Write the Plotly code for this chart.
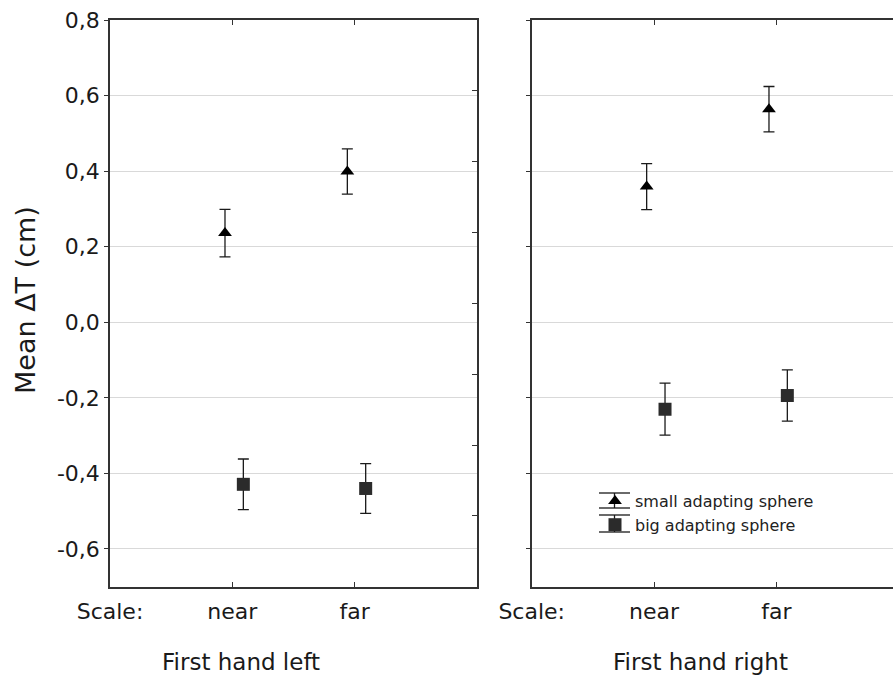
import plotly.graph_objects as go

# ---- data ----
categories = ["near", "far"]
cat_pos = [0, 1]
x_ticklabels = ["Scale:", "near", "far"]
x_tickvals = [-1, 0, 1]

small_left = [0.236, 0.399]
small_left_err = [0.063, 0.060]
big_left = [-0.429, -0.440]
big_left_err = [0.067, 0.066]

small_right = [0.359, 0.564]
small_right_err = [0.061, 0.060]
big_right = [-0.230, -0.194]
big_right_err = [0.069, 0.068]

y_tickvals = [-0.6, -0.4, -0.2, 0.0, 0.2, 0.4, 0.6, 0.8]
y_ticklabels = ["-0,6", "-0,4", "-0,2", "0,0", "0,2", "0,4", "0,6", "0,8"]

panel_titles = ["First hand left", "First hand right"]
series_names = ["small adapting sphere", "big adapting sphere"]

# ---- styling ----
FONT = "DejaVu Sans, Arial, sans-serif"
INK = "#1a1a1a"
LINE = "#333333"
GRID = "#d9d9d9"
off_small = -0.06
off_big = 0.09

W, H = 893, 676
top_px, bot_px = 20, 586.7
ydom = [1 - bot_px / H, 1 - top_px / H]
x1dom = [110 / W, 477 / W]
x2dom = [531.7 / W, 1.0]

fig = go.Figure()

def add_series(xref, yref, vals, errs, offset, symbol, color, size, name, showlegend):
    fig.add_trace(go.Scatter(
        x=[p + offset for p in cat_pos], y=vals,
        mode="markers", name=name, showlegend=showlegend,
        xaxis=xref, yaxis=yref,
        marker=dict(symbol=symbol, color=color, size=size, line=dict(width=0)),
        error_y=dict(type="data", array=errs, visible=True, color=INK, thickness=1.3, width=5.5),
    ))

add_series("x", "y", small_left, small_left_err, off_small, "triangle-up", "#000000", 12, series_names[0], True)
add_series("x", "y", big_left, big_left_err, off_big, "square", "#2b2b2b", 13, series_names[1], True)
add_series("x2", "y2", small_right, small_right_err, off_small, "triangle-up", "#000000", 12, series_names[0], False)
add_series("x2", "y2", big_right, big_right_err, off_big, "square", "#2b2b2b", 13, series_names[1], False)

# invisible trace to carry the right-hand inner tick axis of left panel
fig.add_trace(go.Scatter(x=[None], y=[None], xaxis="x", yaxis="y3", showlegend=False, hoverinfo="skip"))

xcommon = dict(
    tickvals=x_tickvals, ticktext=x_ticklabels, automargin=False,
    ticks="inside", ticklen=5, tickcolor=LINE, tickwidth=1.2,
    showline=True, linecolor=LINE, linewidth=1.5, mirror="ticks",
    showgrid=False, zeroline=False, ticklabelstandoff=4,
    tickfont=dict(family=FONT, size=22, color=INK),
)
ycommon = dict(
    range=[-0.7, 0.8], tickvals=y_tickvals, ticktext=y_ticklabels, automargin=False,
    ticks="outside", ticklen=4, tickcolor=LINE, tickwidth=1.2,
    showline=True, linecolor=LINE, linewidth=1.5,
    showgrid=True, gridcolor=GRID, gridwidth=1.2, zeroline=False,
    tickfont=dict(family=FONT, size=22, color=INK),
)

LEG_X, LEG_TOP = 595, 484

fig.update_layout(
    width=W, height=H,
    margin=dict(l=0, r=0, t=0, b=0, autoexpand=False),
    paper_bgcolor="white", plot_bgcolor="white",
    xaxis=dict(domain=x1dom, range=[-1, 2], anchor="y", **xcommon),
    yaxis=dict(domain=ydom, anchor="x", mirror=True, **ycommon),
    xaxis2=dict(domain=x2dom, range=[-1, 1.954], anchor="y2", **xcommon),
    yaxis2=dict(domain=ydom, anchor="x2", mirror=False, showticklabels=False, **ycommon),
    yaxis3=dict(overlaying="y", anchor="x", side="right", range=[0, 8], dtick=1, automargin=False,
                ticks="inside", ticklen=5, tickcolor=LINE, showticklabels=False,
                showgrid=False, zeroline=False, showline=False),
    legend=dict(x=LEG_X / W, y=1 - LEG_TOP / H, xanchor="left", yanchor="top",
                font=dict(family=FONT, size=16, color="#222222"),
                bgcolor="rgba(0,0,0,0)", tracegroupgap=0, itemwidth=30),
    showlegend=True,
)

# error-bar style decoration of the legend keys (caps and stems)
for y_top, y_bot in [(493, 508), (515, 532)]:
    for yy in (y_top, y_bot):
        fig.add_shape(type="line", xref="paper", yref="paper", layer="below",
                      x0=599 / W, x1=630 / W, y0=1 - yy / H, y1=1 - yy / H,
                      line=dict(color=INK, width=1.3))
    fig.add_shape(type="line", xref="paper", yref="paper", layer="below",
                  x0=614.5 / W, x1=614.5 / W, y0=1 - y_top / H, y1=1 - y_bot / H,
                  line=dict(color=INK, width=1.3))

fig.add_annotation(text="Mean \u0394T (cm)", xref="paper", yref="paper", x=25 / W, y=1 - 300 / H,
                   xanchor="center", yanchor="middle",
                   textangle=-90, showarrow=False, font=dict(family=FONT, size=27, color=INK))
fig.add_annotation(text=panel_titles[0], xref="x", yref="paper", x=0.07, y=1 - 662 / H,
                   xanchor="center", yanchor="middle",
                   showarrow=False, font=dict(family=FONT, size=23, color=INK))
fig.add_annotation(text=panel_titles[1], xref="x2", yref="paper", x=0.38, y=1 - 662 / H,
                   xanchor="center", yanchor="middle",
                   showarrow=False, font=dict(family=FONT, size=23, color=INK))

fig.write_html("out.html", config={"displayModeBar": False},
               post_script="document.body.style.margin='0';document.body.style.overflow='hidden';")
